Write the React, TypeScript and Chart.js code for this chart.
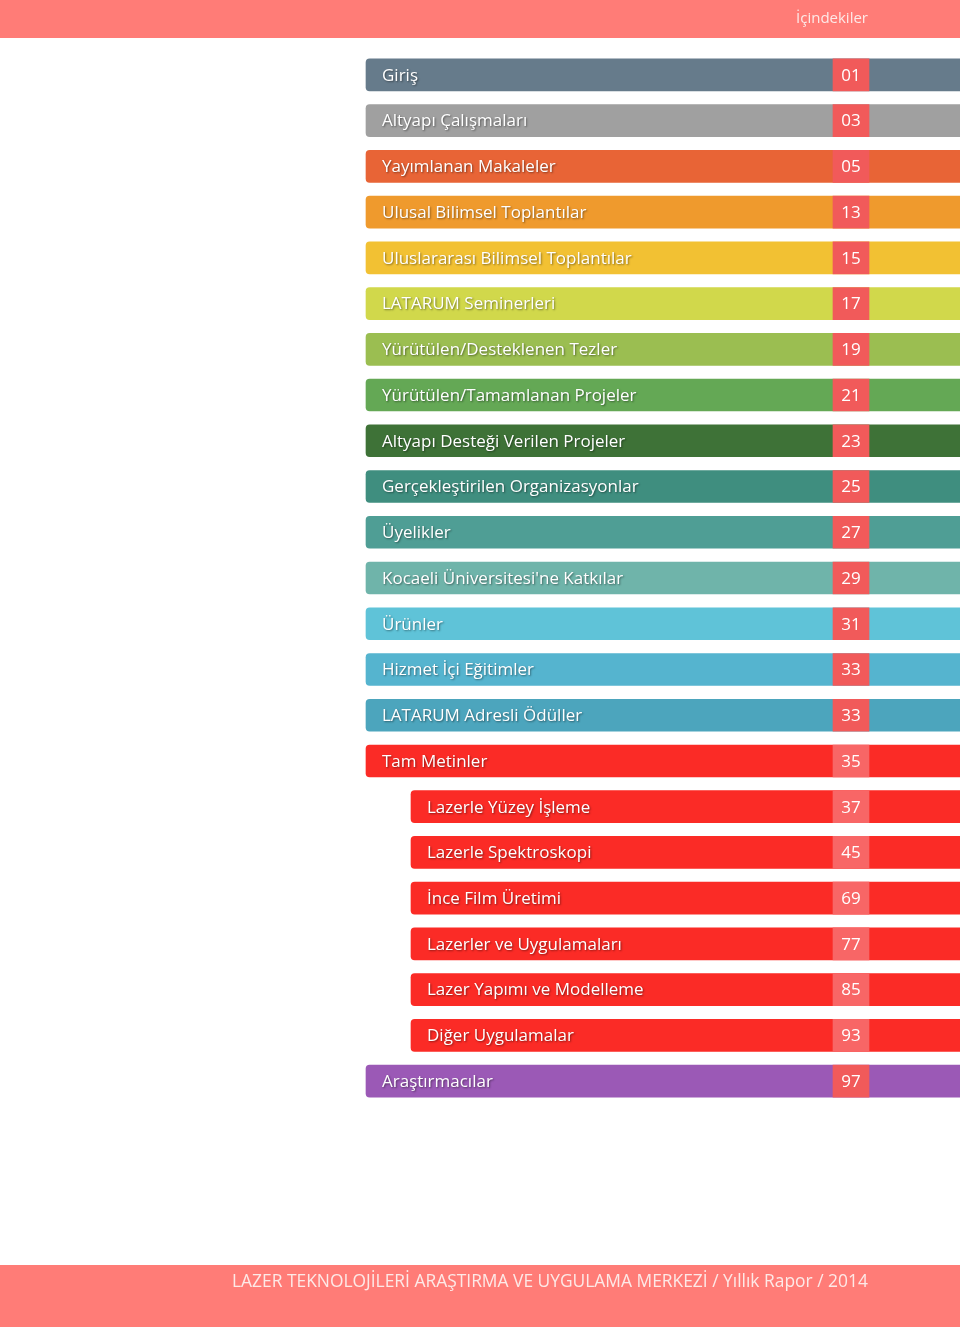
import React, { useEffect, useRef } from "react";
import { Chart, registerables } from "chart.js";

Chart.register(...registerables);

const titles: string[] = [
  "Giriş",
  "Altyapı Çalışmaları",
  "Yayımlanan Makaleler",
  "Ulusal Bilimsel Toplantılar",
  "Uluslararası Bilimsel Toplantılar",
  "LATARUM Seminerleri",
  "Yürütülen/Desteklenen Tezler",
  "Yürütülen/Tamamlanan Projeler",
  "Altyapı Desteği Verilen Projeler",
  "Gerçekleştirilen Organizasyonlar",
  "Üyelikler",
  "Kocaeli Üniversitesi'ne Katkılar",
  "Ürünler",
  "Hizmet İçi Eğitimler",
  "LATARUM Adresli Ödüller",
  "Tam Metinler",
  "Lazerle Yüzey İşleme",
  "Lazerle Spektroskopi",
  "İnce Film Üretimi",
  "Lazerler ve Uygulamaları",
  "Lazer Yapımı ve Modelleme",
  "Diğer Uygulamalar",
  "Araştırmacılar",
];

const pages: string[] = [
  "01", "03", "05", "13", "15", "17", "19", "21", "23", "25", "27", "29",
  "31", "33", "33", "35", "37", "45", "69", "77", "85", "93", "97",
];

// 0 = main section, 1 = sub section (indented)
const levels: number[] = [
  0, 0, 0, 0, 0, 0, 0, 0, 0, 0, 0, 0, 0, 0, 0, 0, 1, 1, 1, 1, 1, 1, 0,
];

const barColors: string[] = [
  "#667b8b", "#a0a0a0", "#e86436", "#ef9a2d", "#f2c133", "#d1d84b",
  "#9bbe51", "#64a855", "#3e7237", "#3f8e7f", "#4f9e95", "#6fb4aa",
  "#5fc3d8", "#55b4cf", "#4ca5bd", "#fb2b26", "#fb2b26", "#fb2b26",
  "#fb2b26", "#fb2b26", "#fb2b26", "#fb2b26", "#9b59b6",
];

const boxColors: string[] = barColors.map((c) =>
  c === "#fb2b26" ? "#f86666" : "#f15a5a"
);

// horizontal extent of the layout (x-scale units)
const PAGE_W = 960;
const INDENT_START = [366, 411];
const NUM_BOX = [833, 869];

const labelPlugin = {
  id: "tocLabels",
  beforeDraw(chart: any) {
    const ctx = chart.ctx;
    ctx.save();
    ctx.fillStyle = "#ffffff";
    ctx.fillRect(0, 0, chart.width, chart.height);
    ctx.fillStyle = "#ff7c77";
    ctx.fillRect(0, 0, chart.width, 38);
    ctx.fillRect(0, 1265, chart.width, chart.height - 1265);
    ctx.fillStyle = "#fde9e7";
    ctx.textBaseline = "middle";
    ctx.font = "15px 'Open Sans'";
    ctx.textAlign = "right";
    ctx.fillText("İçindekiler", 868, 19);
    ctx.textAlign = "left";
    ctx.font = "17.4px 'Open Sans'";
    ctx.fillText(
      "LAZER TEKNOLOJİLERİ ARAŞTIRMA VE UYGULAMA MERKEZİ / Yıllık Rapor / 2014",
      232,
      1282
    );
    ctx.restore();
  },
  afterDatasetsDraw(chart: any) {
    const ctx = chart.ctx;
    const bars = chart.getDatasetMeta(0).data;
    const boxes = chart.getDatasetMeta(1).data;
    ctx.save();
    ctx.textBaseline = "middle";
    ctx.fillStyle = "#ffffff";
    ctx.shadowColor = "rgba(0,0,0,0.45)";
    ctx.shadowOffsetX = 1;
    ctx.shadowOffsetY = 1;
    ctx.shadowBlur = 2;
    bars.forEach((bar: any, i: number) => {
      const left = Math.min(bar.x, bar.base);
      ctx.textAlign = "left";
      ctx.font = "17px 'Open Sans'";
      ctx.fillText(titles[i], left + 16, bar.y + 1);
    });
    ctx.shadowColor = "rgba(0,0,0,0)";
    boxes.forEach((box: any, i: number) => {
      const cx = (box.x + box.base) / 2;
      ctx.textAlign = "center";
      ctx.font = "17px 'Open Sans'";
      ctx.fillText(pages[i], cx, box.y + 1);
    });
    ctx.restore();
  },
};

export default function App() {
  const ref = useRef<HTMLCanvasElement>(null);
  useEffect(() => {
    if (!ref.current) return;
    const chart = new Chart(ref.current, {
      type: "bar",
      data: {
        labels: titles,
        datasets: [
          {
            data: levels.map((l) => [INDENT_START[l], PAGE_W]) as any,
            backgroundColor: barColors,
            borderSkipped: false,
            borderRadius: { topLeft: 4, bottomLeft: 4, topRight: 0, bottomRight: 0 },
            barThickness: 32,
            grouped: false,
            order: 2,
          },
          {
            data: levels.map(() => [NUM_BOX[0], NUM_BOX[1]]) as any,
            backgroundColor: boxColors,
            borderSkipped: false,
            borderRadius: 0,
            barThickness: 32,
            grouped: false,
            order: 1,
          },
        ],
      },
      options: {
        indexAxis: "y",
        responsive: false,
        animation: false,
        layout: { padding: { top: 52, bottom: 223, left: 0, right: 0 } },
        plugins: { legend: { display: false }, tooltip: { enabled: false } },
        scales: {
          x: { type: "linear", min: 0, max: PAGE_W, display: false },
          y: { display: false },
        },
        events: [],
      },
      plugins: [labelPlugin],
    });
    return () => chart.destroy();
  }, []);
  return (
    <div style={{ position: "absolute", left: 0, top: 0, width: 960, height: 1327 }}>
      <canvas ref={ref} width={960} height={1327} style={{ display: "block" }} />
    </div>
  );
}
